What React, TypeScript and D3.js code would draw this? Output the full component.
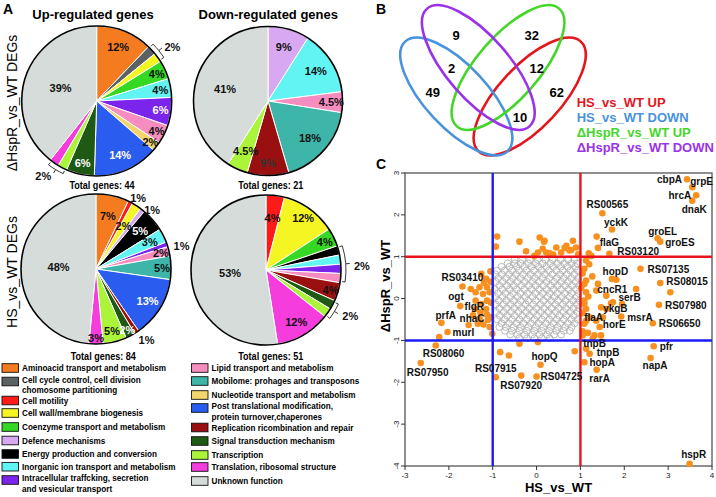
import React from "react";
import * as d3 from "d3";

const FONT = "'Liberation Sans', Arial, Helvetica, sans-serif";

// ---------------- Panel A : COG categories ----------------
const categoryKeys = [
  "amino", "cellcycle", "motility", "cellwall", "coenzyme", "defence", "energy", "inorganic", "intracell",
  "lipid", "mobilome", "nucleotide", "posttrans", "replication", "signal", "transcription", "translation", "unknown",
];
const categoryLegend = [
  ["Aminoacid transport and metabolism"],
  ["Cell cycle control, cell division", "chomosome partitioning"],
  ["Cell motility"],
  ["Cell wall/membrane biogenesis"],
  ["Coenzyme transport and metabolism"],
  ["Defence mechanisms"],
  ["Energy production and conversion"],
  ["Inorganic ion transport and metabolism"],
  ["Intracellular traffcking, secretion", "and vesicular transport"],
  ["Lipid transport and metabolism"],
  ["Mobilome: prohages and transposons"],
  ["Nucleotide transport and metabolism"],
  ["Post translational modification,", "protein turnover,chaperones"],
  ["Replication ricombination and repair"],
  ["Signal transduction mechanism"],
  ["Transcription"],
  ["Translation, ribosomal structure"],
  ["Unknown function"],
];
const categoryColors: Record<string, string> = {
  amino: "#f47b20", cellcycle: "#5b6063", motility: "#ff1a1a", cellwall: "#f6f524", coenzyme: "#35d822",
  defence: "#d8a8f2", energy: "#000000", inorganic: "#62f4f2", intracell: "#7a24ec", lipid: "#f68cbf",
  mobilome: "#3db5a8", nucleotide: "#f3d56c", posttrans: "#2b5cf0", replication: "#9a1010", signal: "#1f5a15",
  transcription: "#aaf43a", translation: "#f53cdc", unknown: "#d5dcd9",
};

// pie 1: ΔHspR_vs_WT up
const upHspRCats = ["amino", "cellcycle", "cellwall", "coenzyme", "inorganic", "intracell", "lipid", "nucleotide", "posttrans", "signal", "transcription", "translation", "unknown"];
const upHspRPct = [12, 2, 2, 4, 4, 6, 4, 2, 14, 6, 2, 2, 39];
// pie 2: ΔHspR_vs_WT down
const downHspRCats = ["defence", "inorganic", "lipid", "mobilome", "replication", "transcription", "unknown"];
const downHspRPct = [9, 14, 4.5, 18, 9, 4.5, 41];
// pie 3: HS_vs_WT up
const upHSCats = ["amino", "motility", "cellwall", "defence", "energy", "inorganic", "intracell", "lipid", "mobilome", "posttrans", "replication", "signal", "transcription", "translation", "unknown"];
const upHSPct = [7, 1, 2, 1, 5, 3, 1, 2, 5, 13, 1, 2, 5, 3, 48];
// pie 4: HS_vs_WT down
const downHSCats = ["motility", "cellwall", "coenzyme", "energy", "inorganic", "intracell", "lipid", "replication", "signal", "transcription", "translation", "unknown"];
const downHSPct = [4, 12, 4, 2, 2, 2, 2, 4, 2, 2, 12, 53];

const totalGenes = [44, 21, 84, 51];

// ---------------- Panel B : Venn ----------------
const vennSets = ["HS_vs_WT UP", "HS_vs_WT DOWN", "\u0394HspR_vs_WT UP", "\u0394HspR_vs_WT DOWN"];
const vennCounts = [9, 32, 2, 12, 49, 62, 10];

// ---------------- Panel C : scatter ----------------
const xTicks = [-3, -2, -1, 0, 1, 2, 3, 4];
const yTicks = [-4, -3, -2, -1, 0, 1, 2, 3];

const labeledGenes: [string, number, number][] = [
  ["cbpA", 3.43, 2.85], ["grpE", 3.55, 2.66], ["hrcA", 3.64, 2.47], ["dnaK", 3.55, 2.34],
  ["RS00565", 1.5, 2.04], ["yckK", 1.72, 1.65], ["flaG", 1.37, 1.48], ["groEL", 2.76, 1.44],
  ["groES", 2.82, 1.36], ["RS03120", 1.66, 1.07], ["hopD", 1.82, 0.45], ["RS07135", 2.37, 0.71],
  ["RS08015", 2.82, 0.37], ["RS07980", 2.79, -0.15], ["RS06650", 2.65, -0.59], ["cncR1", 1.59, 0.07],
  ["serB", 2.27, 0.23], ["ykgB", 1.7, -0.11], ["msrA", 1.93, -0.43], ["horE", 1.51, -0.45],
  ["flaA", 1.13, -0.25], ["pfr", 2.67, -1.14], ["napA", 2.6, -1.42], ["hspR", 3.49, -3.95],
  ["rarA", 1.37, -1.7], ["hopA", 1.09, -1.52], ["tnpB", 1.13, -1.2], ["tnpB", 1.21, -1.32],
  ["RS04725", 0.0, -1.86], ["hopQ", 0.09, -1.58], ["RS07915", -0.93, -1.88], ["RS07920", -0.35, -1.84],
  ["RS08060", -2.3, -1.12], ["RS07950", -2.64, -1.54], ["murI", -2.03, -0.8], ["prfA", -2.17, -0.58],
  ["ogt", -1.74, -0.18], ["RS03410", -1.69, 0.29], ["flgR", -1.39, -0.05], ["nhaC", -1.55, -0.63],
];

const otherSigGenes: [number, number][] = [
  [-0.9, 1.48], [-0.93, 1.24], [-0.39, 1.36], [-0.24, 1.13], [0.07, 1.46], [0.17, 1.36], [0.14, 1.19],
  [0.03, 1.1], [0.22, 1.1], [0.45, 1.22], [0.68, 1.26], [0.75, 1.15], [0.56, 1.1], [0.3, 1.08], [0.9, 1.22],
  [0.83, 1.38], [0.64, 1.21], [0.79, 1.16], [1.19, 1.08], [1.4, 1.21], [-0.05, 1.02], [0.18, 1.38],
  [0.38, 1.05], [0.95, 1.06], [1.25, 1.02],
  [1.13, 0.91], [1.2, 0.82], [1.09, 0.71], [1.27, 0.53], [1.13, 0.43], [1.09, 0.35], [1.4, 0.35], [1.72, 0.47],
  [1.13, 0.15], [1.36, 0.19], [1.09, -0.05], [1.09, -0.13], [1.47, -0.21], [1.59, -0.25], [1.74, -0.09],
  [1.95, -0.13], [1.21, -0.45], [1.13, -0.53], [1.36, -0.53], [1.09, -0.6], [1.44, -0.68], [1.05, -0.78],
  [1.32, -0.88], [1.05, -0.88], [1.47, -0.88], [1.17, -0.82], [1.28, -0.96], [3.05, 0.15], [1.05, 0.6],
  [1.02, 0.25], [1.05, -0.35], [1.18, 0.05],
  [0.87, -1.26], [-0.83, -1.28], [-0.63, -1.36], [-0.39, -1.08], [0.03, -1.04],
  [-1.26, 0.59], [-1.15, 0.47], [-1.3, 0.27], [-1.13, 0.27], [-1.07, 0.15], [-1.22, 0.11], [-1.13, -0.05],
  [-1.26, -0.13], [-1.15, -0.25], [-1.28, -0.33], [-1.13, -0.38], [-1.3, -0.48], [-1.11, -0.51],
  [-1.21, -0.62], [-1.07, -0.68], [-1.05, -0.45], [-1.39, 0.15], [-1.5, 0.23], [-1.34, -0.6], [-1.01, -0.84],
  [-2.22, -0.92], [-1.05, 0.65], [-1.2, 0.38], [-1.05, 0.4], [-1.4, -0.25], [-1.45, -0.4], [-1.04, -0.1],
];

// non-significant genes, read row by row (y, x values)
const nonSigRows: [number, number[]][] = [
  [0.93, [-0.5, -0.33, -0.15, 0.02, 0.2, 0.37, 0.55, 0.72, 0.86]],
  [0.84, [-0.66, -0.5, -0.36, -0.19, -0.02, 0.14, 0.31, 0.47, 0.63, 0.8, 0.93]],
  [0.76, [-0.8, -0.62, -0.45, -0.28, -0.12, 0.05, 0.22, 0.38, 0.55, 0.71, 0.88]],
  [0.67, [-0.9, -0.73, -0.56, -0.4, -0.23, -0.06, 0.11, 0.28, 0.45, 0.6, 0.77, 0.94]],
  [0.58, [-0.94, -0.79, -0.63, -0.47, -0.31, -0.14, 0.03, 0.19, 0.36, 0.53, 0.69, 0.86]],
  [0.49, [-0.87, -0.7, -0.54, -0.37, -0.2, -0.04, 0.13, 0.29, 0.46, 0.62, 0.79, 0.95]],
  [0.4, [-0.93, -0.77, -0.6, -0.44, -0.27, -0.1, 0.06, 0.23, 0.4, 0.56, 0.72, 0.89]],
  [0.31, [-0.85, -0.68, -0.52, -0.35, -0.18, -0.02, 0.15, 0.32, 0.48, 0.65, 0.81, 0.97]],
  [0.22, [-0.95, -0.78, -0.61, -0.45, -0.28, -0.11, 0.06, 0.23, 0.39, 0.56, 0.73, 0.9]],
  [0.13, [-0.88, -0.71, -0.54, -0.37, -0.2, -0.03, 0.14, 0.3, 0.47, 0.64, 0.8, 0.96]],
  [0.04, [-0.94, -0.77, -0.6, -0.43, -0.26, -0.09, 0.08, 0.25, 0.41, 0.58, 0.75, 0.91]],
  [-0.05, [-0.86, -0.69, -0.52, -0.36, -0.19, -0.02, 0.16, 0.33, 0.49, 0.66, 0.83, 0.98]],
  [-0.14, [-0.93, -0.76, -0.59, -0.42, -0.25, -0.08, 0.09, 0.26, 0.43, 0.6, 0.76, 0.92]],
  [-0.23, [-0.85, -0.68, -0.51, -0.34, -0.17, 0.0, 0.17, 0.34, 0.5, 0.67, 0.84, 0.97]],
  [-0.32, [-0.92, -0.75, -0.58, -0.41, -0.24, -0.07, 0.1, 0.27, 0.44, 0.61, 0.77, 0.93]],
  [-0.41, [-0.84, -0.67, -0.5, -0.33, -0.16, 0.01, 0.18, 0.35, 0.52, 0.68, 0.85]],
  [-0.5, [-0.9, -0.73, -0.56, -0.39, -0.22, -0.05, 0.12, 0.29, 0.46, 0.62, 0.79, 0.94]],
  [-0.59, [-0.8, -0.63, -0.46, -0.3, -0.13, 0.04, 0.21, 0.38, 0.54, 0.71, 0.87]],
  [-0.68, [-0.85, -0.7, -0.53, -0.36, -0.19, -0.02, 0.15, 0.32, 0.48, 0.65, 0.8]],
  [-0.77, [-0.72, -0.56, -0.39, -0.22, -0.05, 0.12, 0.29, 0.45, 0.62, 0.76]],
  [-0.86, [-0.6, -0.44, -0.27, -0.1, 0.07, 0.24, 0.4, 0.56]],
  [-0.95, [-0.4, -0.22, -0.05, 0.12, 0.3]],
];

// ---------------- layout / style (not data) ----------------
type Lab = { i: number; t: string; k: number; c?: string };
type Out = { t: string; ang: number; k: number };

const pieLayouts = [
  {
    cx: 96.7, cy: 101, r: 75, cats: upHspRCats, vals: upHspRPct, total: [102, 188.5],
    labels: [
      { i: 0, t: "12%", k: 0.77 }, { i: 3, t: "4%", k: 0.88 }, { i: 4, t: "4%", k: 0.86 },
      { i: 5, t: "6%", k: 0.86, c: "#fff" }, { i: 6, t: "4%", k: 0.89 }, { i: 7, t: "2%", k: 0.9 },
      { i: 8, t: "14%", k: 0.78, c: "#fff" }, { i: 9, t: "6%", k: 0.85, c: "#fff" }, { i: 12, t: "39%", k: 0.51 },
    ] as Lab[],
    outer: [{ t: "2%", ang: 54.5, k: 1.24 }, { t: "2%", ang: 215.4, k: 1.23 }] as Out[],
    braces: [[1, 2], [10, 11]],
  },
  {
    cx: 268, cy: 101, r: 74.5, cats: downHspRCats, vals: downHspRPct, total: [270.8, 188.5],
    labels: [
      { i: 0, t: "9%", k: 0.76 }, { i: 1, t: "14%", k: 0.76 }, { i: 2, t: "4.5%", k: 0.85 },
      { i: 3, t: "18%", k: 0.75 }, { i: 4, t: "9%", k: 0.83, c: "#333" }, { i: 5, t: "4.5%", k: 0.73 },
      { i: 6, t: "41%", k: 0.6 },
    ] as Lab[],
    outer: [] as Out[],
    braces: [],
  },
  {
    cx: 96, cy: 269, r: 75, cats: upHSCats, vals: upHSPct, total: [103.3, 359.5],
    labels: [
      { i: 0, t: "7%", k: 0.72 }, { i: 2, t: "2%", k: 0.68 }, { i: 4, t: "5%", k: 0.78, c: "#fff" },
      { i: 5, t: "3%", k: 0.8 }, { i: 7, t: "2%", k: 0.89 }, { i: 8, t: "5%", k: 0.88 },
      { i: 9, t: "13%", k: 0.81, c: "#fff" }, { i: 11, t: "2%", k: 0.91, c: "#fff" }, { i: 12, t: "5%", k: 0.85 },
      { i: 13, t: "3%", k: 0.92 }, { i: 14, t: "48%", k: 0.5 },
    ] as Lab[],
    outer: [
      { t: "1%", ang: 30.7, k: 1.1 }, { t: "1%", ang: 43.4, k: 1.09 }, { t: "1%", ang: 75, k: 1.18 },
      { t: "1%", ang: 144.5, k: 1.16 },
    ] as Out[],
    braces: [],
  },
  {
    cx: 266, cy: 270, r: 75, cats: downHSCats, vals: downHSPct, total: [270.8, 359.5],
    labels: [
      { i: 0, t: "4%", k: 0.7 }, { i: 1, t: "12%", k: 0.85 }, { i: 2, t: "4%", k: 0.87 },
      { i: 7, t: "4%", k: 0.9 }, { i: 10, t: "12%", k: 0.8 }, { i: 11, t: "53%", k: 0.48 },
    ] as Lab[],
    outer: [{ t: "2%", ang: 87.6, k: 1.28 }, { t: "2%", ang: 118.6, k: 1.28 }] as Out[],
    braces: [[3, 6], [8, 9]],
  },
];

// legend row centres (two-line entries: centre of the pair of lines)
const legendY = [368, 384.5, 400.5, 413, 427, 440.5, 454, 466.7, 483, 368, 381, 395, 411, 427.5, 441, 455, 467, 481];

const labelPlace: [string, number, number][] = [
  ["end", -5, 4], ["start", -2, -2], ["end", -5, 4], ["middle", 2, 12],
  ["middle", 5, -5], ["middle", 4, -4], ["start", 3, 9], ["middle", 5, -3],
  ["start", 5, 4], ["start", 8, 1], ["middle", -1, -5], ["start", 7, 4],
  ["start", 6, 2], ["start", 6, 4], ["start", 6, 4], ["start", -9, -3],
  ["middle", -6.5, 12], ["start", -8, 9], ["start", 6, 4], ["start", 0, 11],
  ["start", -2, 12], ["start", 6, 4], ["middle", 4.5, 11], ["middle", 4, -6],
  ["middle", 3, 12], ["start", 5, 4], ["start", -3, -2], ["start", 7, 2],
  ["start", 4, 4], ["middle", 4, -5], ["middle", 0, -5], ["middle", 0, 13],
  ["start", -13, 12], ["start", -14, 13], ["start", 5, 4], ["start", -6, -4],
  ["start", -12, -6], ["middle", 0, -5], ["start", -11, 9.8], ["start", -9, -2.8],
];

const vennPos = [[456, 35], [531.7, 35], [451.7, 68.3], [536.7, 68.3], [432.7, 92.3], [556.7, 92.3], [520, 117.3]];
const vennEllipses = [
  { cx: 529.7, cy: 96.5, a: 75, b: 31, rot: -47, color: "#e3161d" },
  { cx: 456.3, cy: 96.5, a: 75, b: 31, rot: 47, color: "#4a93dc" },
  { cx: 508, cy: 67.5, a: 78, b: 31, rot: -49, color: "#46d62a" },
  { cx: 478.3, cy: 67.5, a: 78, b: 31, rot: 49, color: "#9a32e8" },
];
const vennTextColors = ["#e3161d", "#4a93dc", "#46d62a", "#9a32e8"];

function Pie({ L }: { L: any }) {
  const { cx, cy, r, cats, vals, labels, outer, braces } = L;
  const arcs = d3.pie<number>().sort(null).value((d: number) => d)(vals);
  const arc = d3.arc<any>().innerRadius(0).outerRadius(r);
  const p = (a: number, rr: number) => `${(Math.sin(a) * rr).toFixed(2)},${(-Math.cos(a) * rr).toFixed(2)}`;
  const xy = (a: number, rr: number) => [Math.sin(a) * rr, -Math.cos(a) * rr];
  return (
    <g transform={`translate(${cx},${cy})`}>
      {arcs.map((a: any, i: number) => (
        <path key={i} d={arc(a) as string} fill={categoryColors[cats[i]]} stroke="#fff" strokeWidth={1} />
      ))}
      <circle r={r} fill="none" stroke="#000" strokeWidth={1.6} />
      {labels.map((l: Lab, j: number) => {
        const a = arcs[l.i];
        const m = (a.startAngle + a.endAngle) / 2;
        const [x, y] = xy(m, r * l.k);
        return (
          <text key={j} x={x} y={y} dy="0.36em" textAnchor="middle" fontSize={11} fontWeight="bold" fill={l.c || "#111"}>
            {l.t}
          </text>
        );
      })}
      {braces.map((b: number[], j: number) => {
        const a0 = arcs[b[0]].startAngle + 0.02;
        const a1 = arcs[b[1]].endAngle - 0.02;
        const am = (a0 + a1) / 2;
        const R = r + 5;
        const d = `M${p(a0, r + 2)} L${p(a0, R)} A${R},${R} 0 0 1 ${p(am, R)} L${p(am, R + 4)} M${p(am, R)} A${R},${R} 0 0 1 ${p(a1, R)} L${p(a1, r + 2)}`;
        return <path key={j} d={d} fill="none" stroke="#222" strokeWidth={0.9} />;
      })}
      {outer.map((o: Out, j: number) => {
        const a = (o.ang * Math.PI) / 180;
        const [x, y] = xy(a, r * o.k);
        return (
          <text key={j} x={x} y={y} dy="0.36em" textAnchor="middle" fontSize={11} fontWeight="bold" fill="#111">
            {o.t}
          </text>
        );
      })}
    </g>
  );
}

export default function App() {
  const x = d3.scaleLinear().domain([-3, 4]).range([405, 712]);
  const y = d3.scaleLinear().domain([-4, 3]).range([466, 173]);
  const cloud: [number, number][] = nonSigRows.flatMap(([yy, xs]) => xs.map((xx) => [xx, yy] as [number, number]));
  const x0 = x.range()[0], x1 = x.range()[1], y0 = y.range()[1], y1 = y.range()[0];

  return (
    <div style={{ position: "absolute", left: 0, top: 0 }}>
      <svg width={716} height={497} style={{ display: "block", background: "#fff" }} fontFamily={FONT}>
        {/* ---------- Panel A ---------- */}
        <text x={3} y={13.5} fontSize={14} fontWeight="bold">A</text>
        <text x={93} y={19} fontSize={13} fontWeight="bold" textAnchor="middle">Up-regulated genes</text>
        <text x={268.3} y={19} fontSize={13} fontWeight="bold" textAnchor="middle">Down-regulated genes</text>
        <text transform="translate(17,103) rotate(-90)" fontSize={14} textAnchor="middle">{"\u0394HspR_vs_WT DEGs"}</text>
        <text transform="translate(17,272) rotate(-90)" fontSize={14} textAnchor="middle">HS_vs_WT DEGs</text>
        {pieLayouts.map((L, i) => (
          <g key={i}>
            <Pie L={L} />
            <text transform={`translate(${L.total[0]},${L.total[1]}) scale(0.78,1)`} fontSize={11.6} fontWeight="bold" textAnchor="middle">
              {`Total genes: ${totalGenes[i]}`}
            </text>
          </g>
        ))}
        {categoryKeys.map((k, i) => {
          const left = i < 9;
          const bx = left ? 2 : 191.5;
          const tx = left ? 22 : 211.5;
          const cy = legendY[i];
          const lines = categoryLegend[i];
          const two = lines.length > 1;
          const boxY = two ? cy - 3 : cy;
          return (
            <g key={k}>
              <rect x={bx} y={boxY - 4.3} width={16.5} height={8.6} fill={categoryColors[k]} stroke="#111" strokeWidth={0.9} />
              {lines.map((ln, j) => (
                <text key={j} transform={`translate(${tx},${(two ? cy - 5.25 + j * 10.5 : cy) + 3.4}) scale(0.86,1)`} fontSize={9.5} fontWeight="bold">
                  {ln}
                </text>
              ))}
            </g>
          );
        })}

        {/* ---------- Panel B ---------- */}
        <text x={376} y={13.5} fontSize={14} fontWeight="bold">B</text>
        {vennEllipses.map((e, i) => (
          <ellipse key={i} transform={`translate(${e.cx},${e.cy}) rotate(${e.rot})`} rx={e.a} ry={e.b} fill="none" stroke={e.color} strokeWidth={2.6} />
        ))}
        {vennCounts.map((c, i) => (
          <text key={i} x={vennPos[i][0]} y={vennPos[i][1]} dy="0.36em" textAnchor="middle" fontSize={13} fontWeight="bold">{c}</text>
        ))}
        {vennSets.map((s, i) => (
          <text key={s} x={576.7} y={106.5 + i * 15.3} fontSize={13} fontWeight="bold" fill={vennTextColors[i]}>{s}</text>
        ))}

        {/* ---------- Panel C ---------- */}
        <text x={376} y={169} fontSize={14} fontWeight="bold">C</text>
        <rect x={x0} y={y0} width={x1 - x0} height={y1 - y0} fill="none" stroke="#555" strokeWidth={1.3} />
        {cloud.map((d, i) => (
          <circle key={i} cx={x(d[0])} cy={y(d[1])} r={3.4} fill="none" stroke="#b2b2b2" strokeWidth={0.9} />
        ))}
        {otherSigGenes.map((d, i) => (
          <circle key={i} cx={x(d[0])} cy={y(d[1])} r={3.3} fill="#f7901e" />
        ))}
        {labeledGenes.map((d, i) => (
          <circle key={i} cx={x(d[1])} cy={y(d[2])} r={3.3} fill="#f7901e" />
        ))}
        <line x1={x0} x2={x1} y1={y(1)} y2={y(1)} stroke="#e8141c" strokeWidth={2.4} />
        <line x1={x0} x2={x1} y1={y(-1)} y2={y(-1)} stroke="#1b1bf5" strokeWidth={2.4} />
        <line x1={x(-1)} x2={x(-1)} y1={y0} y2={y1} stroke="#1b1bf5" strokeWidth={2.4} />
        <line x1={x(1)} x2={x(1)} y1={y0} y2={y1} stroke="#e8141c" strokeWidth={2.4} />
        {labeledGenes.map((d, i) => {
          const [anchor, dx, dy] = labelPlace[i];
          return (
            <text key={i} x={x(d[1]) + dx} y={y(d[2]) + dy} textAnchor={anchor as any} fontSize={10} fontWeight="bold" fill="#111">
              {d[0]}
            </text>
          );
        })}
        {xTicks.map((t) => (
          <g key={t}>
            <line x1={x(t)} x2={x(t)} y1={y1} y2={y1 + 4} stroke="#333" />
            <text x={x(t)} y={y1 + 12} textAnchor="middle" fontSize={8} fill="#222">{String(t)}</text>
          </g>
        ))}
        {yTicks.map((t) => (
          <g key={t}>
            <line x1={x0 - 4} x2={x0} y1={y(t)} y2={y(t)} stroke="#333" />
            <text transform={`translate(${x0 - 6},${y(t)}) rotate(-90)`} textAnchor="middle" fontSize={8} fill="#222">{String(t)}</text>
          </g>
        ))}
        <text x={(x0 + x1) / 2} y={492} textAnchor="middle" fontSize={13} fontWeight="bold">HS_vs_WT</text>
        <text transform={`translate(390,${y(0.3)}) rotate(-90)`} textAnchor="middle" fontSize={13} fontWeight="bold">{"\u0394HspR_vs_WT"}</text>
      </svg>
    </div>
  );
}
